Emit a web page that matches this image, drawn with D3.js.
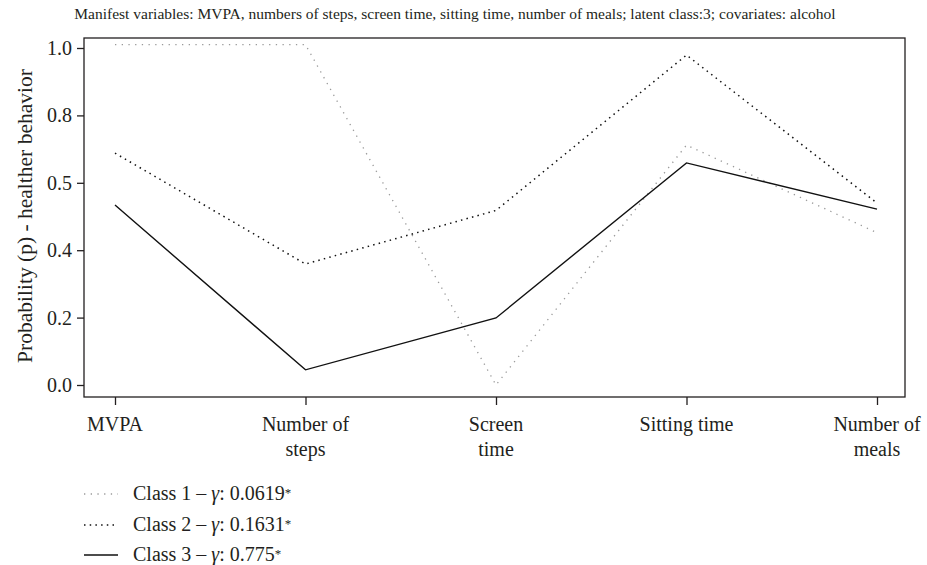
<!DOCTYPE html>
<html>
<head>
<meta charset="utf-8">
<script src="https://cdn.jsdelivr.net/npm/d3@7"></script>
<style>
  html, body { margin: 0; padding: 0; background: #fff; }
  text { font-family: "Liberation Serif", "DejaVu Serif", serif; fill: #231f20; }
</style>
</head>
<body>
<svg id="chart" width="927" height="565"></svg>
<script>
// ---- data ----
const categories = [["MVPA"], ["Number of", "steps"], ["Screen", "time"], ["Sitting time"], ["Number of", "meals"]];
const categoryKeys = ["MVPA", "Number of steps", "Screen time", "Sitting time", "Number of meals"];
const class1 = [1.01, 1.01, 0.0, 0.712, 0.452];
const class2 = [0.688, 0.359, 0.518, 0.979, 0.54];
const class3 = [0.534, 0.045, 0.199, 0.659, 0.522];
const yTickValues = [0.0, 0.2, 0.4, 0.6, 0.8, 1.0];
const yTickLabels = ["0.0", "0.2", "0.4", "0.5", "0.8", "1.0"];
const legendLabels = ["Class 1 \u2013 ", "Class 2 \u2013 ", "Class 3 \u2013 "];
const legendValues = [": 0.0619", ": 0.1631", ": 0.775"];
const titleText = "Manifest variables: MVPA, numbers of steps, screen time, sitting time, number of meals; latent class:3; covariates: alcohol";
const yLabel = "Probability (p) - healther behavior";

// ---- layout ----
const svg = d3.select("#chart");
const frame = {left: 84, right: 905, top: 38, bottom: 397};
const x = d3.scalePoint().domain(categoryKeys).range([115, 877]);
const y = d3.scaleLinear().domain([0, 1]).range([385, 48]);
const fs = "20px";

const styles = [
  {stroke: "#9a9a9a", width: 1.3, dash: "1.3,5.4"},
  {stroke: "#111", width: 1.5, dash: "1.5,4.2"},
  {stroke: "#111", width: 1.4, dash: null}
];

// title
svg.append("text").attr("x", 455).attr("y", 19).attr("text-anchor", "middle")
  .style("font-size", "15.5px").text(titleText);

// frame
svg.append("rect").attr("x", frame.left).attr("y", frame.top)
  .attr("width", frame.right - frame.left).attr("height", frame.bottom - frame.top)
  .attr("fill", "none").attr("stroke", "#231f20").attr("stroke-width", 1.3);

// y axis
const yAxis = d3.axisLeft(y).tickValues(yTickValues).tickSize(7).tickPadding(5)
  .tickFormat((d, i) => yTickLabels[i]);
const gy = svg.append("g").attr("transform", `translate(${frame.left},0)`).call(yAxis);
gy.select(".domain").remove();
gy.selectAll("line").attr("stroke", "#231f20").attr("stroke-width", 1.3);
gy.selectAll("text").style("font-size", fs).attr("fill", "#231f20")
  .style("font-family", "'Liberation Serif', serif");

// x axis
const xAxis = d3.axisBottom(x).tickSize(8).tickFormat("");
const gx = svg.append("g").attr("transform", `translate(0,${frame.bottom})`).call(xAxis);
gx.select(".domain").remove();
gx.selectAll("line").attr("stroke", "#231f20").attr("stroke-width", 1.3);
categories.forEach((lines, i) => {
  const t = svg.append("text").attr("x", x(categoryKeys[i])).attr("y", 431)
    .attr("text-anchor", "middle").style("font-size", fs);
  lines.forEach((l, j) => t.append("tspan").attr("x", x(categoryKeys[i])).attr("dy", j === 0 ? 0 : 25).text(l));
});

// y label
svg.append("text").attr("transform", "translate(32,216) rotate(-90)")
  .attr("text-anchor", "middle").style("font-size", "21.5px").text(yLabel);

// lines
const line = d3.line().x((d, i) => x(categoryKeys[i])).y(d => y(d));
[class1, class2, class3].forEach((s, k) => {
  svg.append("path").datum(s).attr("d", line).attr("fill", "none")
    .attr("stroke", styles[k].stroke).attr("stroke-width", styles[k].width)
    .attr("stroke-dasharray", styles[k].dash);
});

// legend
const legY = [494, 525, 555];
legendLabels.forEach((lab, k) => {
  svg.append("line").attr("x1", 84).attr("x2", 118).attr("y1", legY[k]).attr("y2", legY[k])
    .attr("stroke", styles[k].stroke).attr("stroke-width", styles[k].width)
    .attr("stroke-dasharray", styles[k].dash);
  const t = svg.append("text").attr("x", 133).attr("y", legY[k] + 6).style("font-size", fs);
  t.append("tspan").text(lab);
  t.append("tspan").style("font-style", "italic").text("\u03b3");
  t.append("tspan").text(legendValues[k]);
  t.append("tspan").style("font-size", "13px").attr("dy", -3).text("*");
});
</script>
</body>
</html>
